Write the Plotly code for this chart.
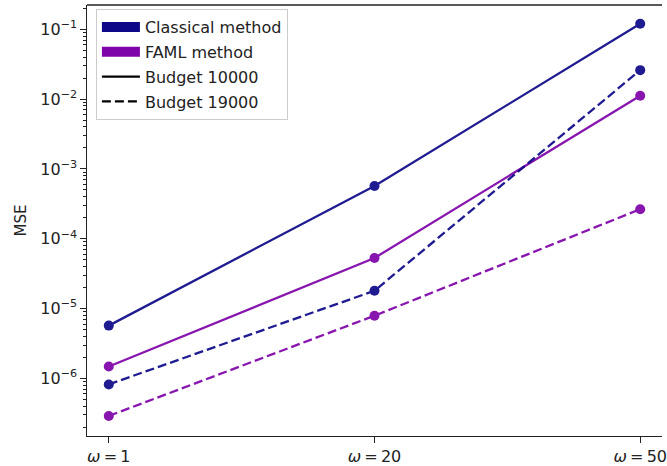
import plotly.graph_objects as go

categories = ["<i>ω</i>\u2009=\u20091", "<i>ω</i>\u2009=\u200920", "<i>ω</i>\u2009=\u200950"]
classical_10000 = [5.7e-6, 5.7e-4, 0.12]
classical_19000 = [8.2e-7, 1.8e-5, 0.026]
faml_10000 = [1.48e-6, 5.3e-5, 0.0112]
faml_19000 = [2.9e-7, 7.9e-6, 2.65e-4]

c_classical = "#0d0887"
c_faml = "#7e03a8"
xpos = [0, 1, 2]
DASH = "9px,4px"

fig = go.Figure()

def add(vals, color, dash):
    fig.add_trace(go.Scatter(
        x=xpos, y=vals, mode="lines+markers",
        line=dict(color=color, width=2.3, dash=dash),
        marker=dict(color=color, size=10),
        opacity=0.92, showlegend=False, hoverinfo="skip"))

add(classical_10000, c_classical, "solid")
add(faml_10000, c_faml, "solid")
add(classical_19000, c_classical, DASH)
add(faml_19000, c_faml, DASH)

# legend entries
legend_items = [
    ("Classical method", c_classical, "solid", 10),
    ("FAML method", c_faml, "solid", 10),
    ("Budget 10000", "black", "solid", 2.3),
    ("Budget 19000", "black", DASH, 2.3),
]
for i, (name, col, dash, w) in enumerate(legend_items):
    fig.add_trace(go.Scatter(
        x=[None], y=[None], mode="lines", name=name,
        line=dict(color=col, width=w, dash=dash),
        legendgroup=f"g{i}", showlegend=True))

minor_vals = [m * 10.0 ** k for k in range(-7, 0) for m in range(2, 10)]

fig.update_layout(
    width=667, height=466,
    margin=dict(l=87, r=0, t=5, b=28),
    paper_bgcolor="white", plot_bgcolor="white",
    font=dict(family="DejaVu Sans", size=16, color="#222222"),
    legend=dict(
        x=0.0155, y=0.9905, xanchor="left", yanchor="top",
        bgcolor="white", bordercolor="#cccccc", borderwidth=1,
        font=dict(size=16), tracegroupgap=1, traceorder="grouped",
        itemwidth=38,
    ),
    xaxis=dict(
        range=[-0.082, 2.082], tickvals=xpos, ticktext=categories,
        showgrid=False, zeroline=False, showline=True, linecolor="#222222",
        linewidth=1.3, ticks="outside", ticklen=5.5, tickcolor="#222222",
        tickfont=dict(size=16), ticklabeloverflow="allow",
    ),
    yaxis=dict(
        type="log", range=[-6.825, -0.652],
        tickvals=[1e-6, 1e-5, 1e-4, 1e-3, 1e-2, 1e-1],
        ticktext=["10<sup>−6</sup>", "10<sup>−5</sup>", "10<sup>−4</sup>",
                  "10<sup>−3</sup>", "10<sup>−2</sup>", "10<sup>−1</sup>"],
        showgrid=False, zeroline=False, showline=True, linecolor="#222222",
        linewidth=1.3, ticks="outside", ticklen=5.5, tickcolor="#222222",
        tickfont=dict(size=16),
        minor=dict(tickvals=minor_vals, ticks="outside", ticklen=3,
                   tickcolor="#222222", showgrid=False),
        title=dict(text="MSE", font=dict(size=15), standoff=10),
    ),
    shapes=[dict(type="line", xref="paper", yref="paper", x0=0, x1=1, y0=1, y1=1,
                 line=dict(color="#222222", width=1.3))],
)

fig.write_html("out.html", config={"displayModeBar": False},
               post_script="document.body.style.margin='0';")
